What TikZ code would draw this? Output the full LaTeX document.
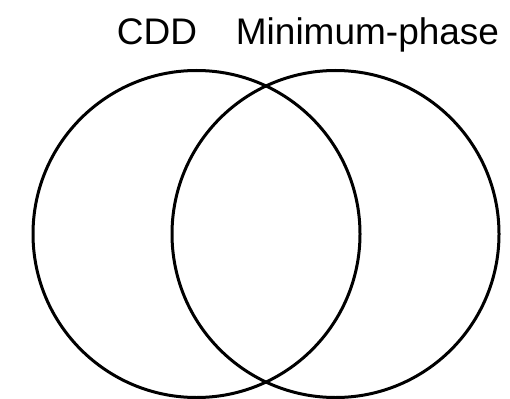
\documentclass[tikz,border=0pt]{standalone}
\usepackage{fontspec}
\setmainfont{Liberation Sans}
\begin{document}
\begin{tikzpicture}[x=1pt, y=1pt]
		\useasboundingbox (0,0) rectangle (510,-398);

		\node[circle, draw=black, line width=3pt, minimum size=327pt](cddSet) at (196.5,-234){};
		\node[circle, draw=black, line width=3pt, minimum size=327pt](minPhaseSet) at (335.5,-234){};

		% set labels
		\node[anchor=base, inner sep=0pt, font=\fontsize{37}{40}\selectfont](cddLabel) at (157,-45){CDD};
		\node[anchor=base, inner sep=0pt, font=\fontsize{37}{40}\selectfont](minPhaseLabel) at (367.5,-45){Minimum-phase};
	\end{tikzpicture}
\end{document}
